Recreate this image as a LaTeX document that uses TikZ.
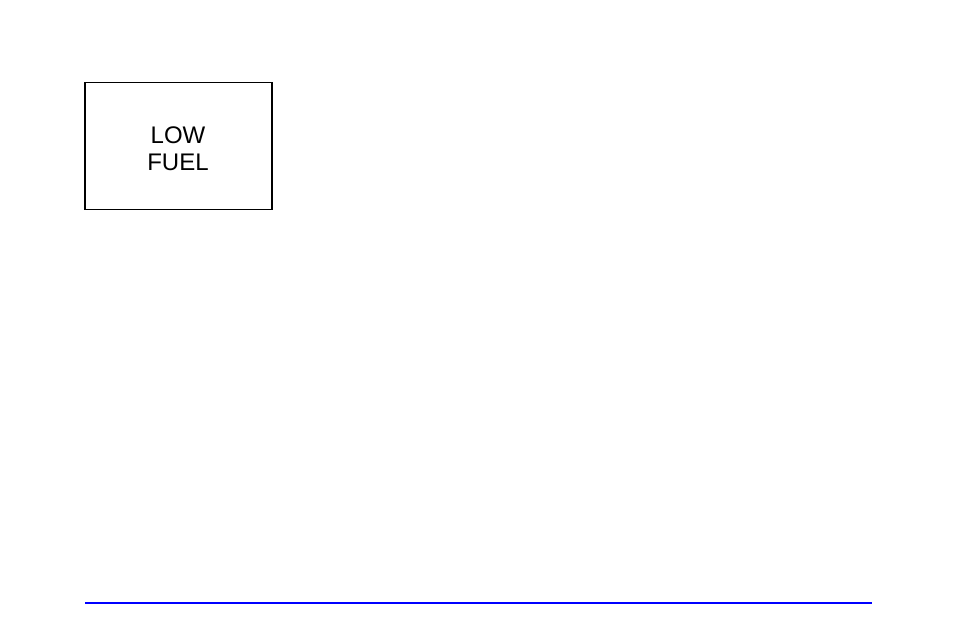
\documentclass[tikz,border=0pt]{standalone}
\usepackage{fontspec}
\setmainfont{Liberation Sans}
\usepackage{xcolor}
\definecolor{rule-blue}{RGB}{0,0,255}
\usetikzlibrary{positioning}
\tikzstyle{lamp}=[draw, line width=1.2pt, minimum width=187pt, minimum height=127pt, inner sep=0pt, align=center]
\tikzstyle{footrule}=[draw=rule-blue, line width=2pt]

\begin{document}
\begin{tikzpicture}[x=1pt,y=-1pt]
	\useasboundingbox (0,0) rectangle (954,636);
	\node[lamp] (lowfuel) at (178.5,146) {};
	\node[font=\fontsize{24}{27}\selectfont, align=center, inner sep=0pt] (lowfueltext) at (178,148.5) {LOW\\FUEL};
	\coordinate (ruleL) at (85,603);
	\coordinate (ruleR) at (872,603);
	\draw[footrule] (ruleL) -- (ruleR);
\end{tikzpicture}
\end{document}
